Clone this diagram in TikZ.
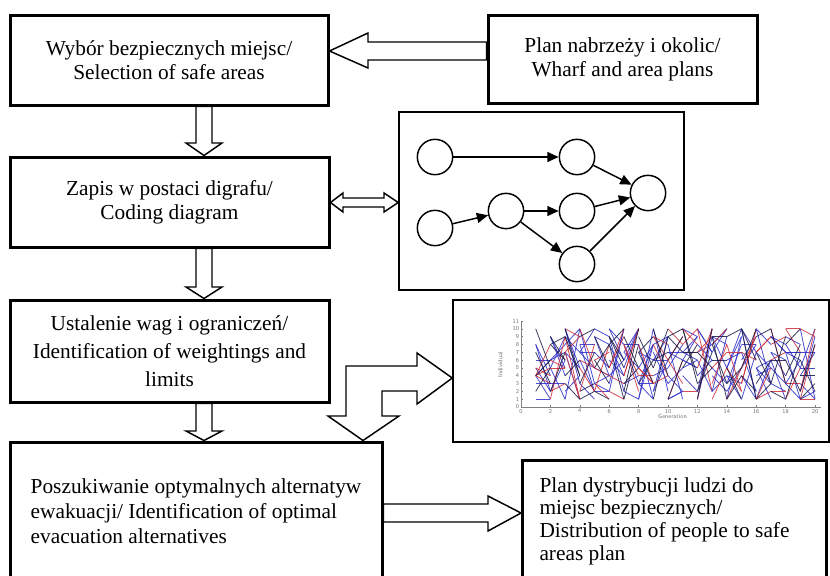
\documentclass[tikz,border=0pt]{standalone}
\usepackage{fontspec}
\setmainfont{Liberation Serif}
\usetikzlibrary{arrows.meta}

\definecolor{plotblue}{RGB}{45,45,200}
\definecolor{plotred}{RGB}{205,45,55}
\definecolor{plotdark}{RGB}{25,25,70}

\tikzset{every picture/.style={line width=0.75pt}}
\tikzset{
  flowbox/.style={draw, line width=2.25pt, inner sep=0pt, font=\fontsize{16}{18}\selectfont},
  framebox/.style={draw, line width=1.1pt, inner sep=0pt},
  blockarrow/.style={draw, line width=1.1pt, line join=miter},
  vertex/.style={draw, circle, line width=1.1pt, minimum size=26.5pt, inner sep=0pt},
  graphedge/.style={line width=1.1pt, -{Triangle[length=8.5pt,width=7.5pt]}},
  plotline/.style={line width=0.6pt, opacity=0.85},
  ticklabel/.style={font=\fontsize{4.5}{5}\sffamily, text=black!55, inner sep=0.5pt},
}

\begin{document}
\begin{tikzpicture}[x=0.75pt,y=0.75pt,yscale=-1,xscale=1]
	\useasboundingbox (0,0) rectangle (830,575);
	\clip (0,0) rectangle (830,575);

	%Shape: Rectangle
	\node [flowbox, minimum width=318*0.75pt, minimum height=90*0.75pt, align=center] (select) at (169,60) {Wybór bezpiecznych miejsc/\\Selection of safe areas};
	%Shape: Rectangle
	\node [flowbox, minimum width=269*0.75pt, minimum height=88*0.75pt, align=center] (plans) at (622.5,59) {Plan nabrzeży i okolic/\\Wharf and area plans};
	%Shape: Rectangle
	\node [flowbox, minimum width=319*0.75pt, minimum height=90*0.75pt, align=center] (coding) at (169.5,202) {Zapis w postaci digrafu/\\Coding diagram};
	%Shape: Rectangle
	\node [flowbox, minimum width=319*0.75pt, minimum height=102*0.75pt, align=center, font=\fontsize{16}{21}\selectfont] (weights) at (169.5,351) {Ustalenie wag i ograniczeń/\\Identification of weightings and\\limits};
	%Shape: Rectangle
	\node [flowbox, minimum width=372*0.75pt, minimum height=138*0.75pt, align=left, font=\fontsize{16}{18.75}\selectfont] (search) at (196,511) {Poszukiwanie optymalnych alternatyw\\ewakuacji/ Identification of optimal\\evacuation alternatives};
	%Shape: Rectangle
	\node [flowbox, text width=270*0.75pt, inner xsep=17*0.75pt, minimum height=122*0.75pt, align=flush left, font=\fontsize{16}{17}\selectfont] (distribution) at (674.5,521) {Plan dystrybucji ludzi do\\miejsc bezpiecznych/\\Distribution of people to safe\\areas plan};

	%Shape: Rectangle (digraph frame)
	\node [framebox, minimum width=285*0.75pt, minimum height=178*0.75pt] (graph) at (541.5,201) {};
	%Shape: Rectangle (chart frame)
	\node [framebox, minimum width=376*0.75pt, minimum height=142*0.75pt] (chart) at (641,371) {};

	%Shape: Circle
	\node [vertex] (v1) at (435,157) {};
	\node [vertex] (v2) at (435,228) {};
	\node [vertex] (v3) at (506,211) {};
	\node [vertex] (v4) at (577,157) {};
	\node [vertex] (v5) at (577,211) {};
	\node [vertex] (v6) at (577,264) {};
	\node [vertex] (v7) at (648,193) {};
	%Straight Lines
	\draw [graphedge] (v1) -- (v4);
	\draw [graphedge] (v2) -- (v3);
	\draw [graphedge] (v3) -- (v5);
	\draw [graphedge] (v3) -- (v6);
	\draw [graphedge] (v4) -- (v7);
	\draw [graphedge] (v5) -- (v7);
	\draw [graphedge] (v6) -- (v7);

	%Left Arrow
	\draw [blockarrow] (plans.west |- 0,42) -- (368,42) -- (368,33) -- (select.east |- 0,51) -- (368,68) -- (368,60) -- (plans.west |- 0,60) -- cycle ;
	%Down Arrow
	\draw [blockarrow] (196,0 |- select.south) -- (196,143) -- (186,143) -- (204,0 |- coding.north) -- (222,143) -- (212,143) -- (212,0 |- select.south) -- cycle ;
	%Down Arrow
	\draw [blockarrow] (196,0 |- coding.south) -- (196,287) -- (186,287) -- (204,0 |- weights.north) -- (222,287) -- (212,287) -- (212,0 |- coding.south) -- cycle ;
	%Down Arrow
	\draw [blockarrow] (196,0 |- weights.south) -- (196,431) -- (186,431) -- (204,0 |- search.north) -- (222,431) -- (212,431) -- (212,0 |- weights.south) -- cycle ;
	%Left Right Arrow
	\draw [blockarrow] (coding.east |- 0,202.5) -- (343,193) -- (343,198) -- (384,198) -- (384,193) -- (graph.west |- 0,202.5) -- (384,212) -- (384,207) -- (343,207) -- (343,212) -- cycle ;
	%Bent Arrow (to chart and down)
	\draw [blockarrow] (346,366) -- (417,366) -- (417,353) -- (chart.west |- 0,378) -- (417,404) -- (417,391) -- (382,391) -- (382,416) -- (399,416) -- (363,0 |- search.north) -- (328,416) -- (346,416) -- cycle ;
	%Right Arrow
	\draw [blockarrow] (search.east |- 0,504) -- (488,504) -- (488,496) -- (distribution.west |- 0,513) -- (488,531) -- (488,522) -- (search.east |- 0,522) -- cycle ;

	% Chart: individuals over generations
	\begin{scope}[shift={(521,407)}, xscale=14.7, yscale=-7.82]
		\pgfmathsetseed{17}
		\foreach \g in {1,...,19} {
			\foreach \k in {1,...,16} {
				\pgfmathrandominteger{\va}{1}{10}
				\pgfmathrandominteger{\vb}{1}{10}
				\ifnum\k<9 \def\col{plotblue}\else\ifnum\k<13 \def\col{plotred}\else\def\col{plotdark}\fi\fi
				\draw [plotline, color=\col] (\g,\va) -- (\g+1,\vb);
			}
		}
		% axes
		\draw [line width=0.4pt, black!50] (0,11) -- (0,0) -- (20.4,0);
		\foreach \v in {0,...,11} {
			\draw [line width=0.3pt, black!50] (0,\v) -- (0.15,\v);
			\node [ticklabel, anchor=east] (ytick\v) at (-0.05,\v) {\v};
		}
		\foreach \g in {0,2,...,20} {
			\draw [line width=0.3pt, black!50] (\g,0) -- (\g,0.2);
			\node [ticklabel, anchor=north] (xtick\g) at (\g,-0.1) {\g};
		}
		\node [ticklabel] (xlabel) at (10.3,-1.2) {Generation};
		\node [ticklabel, rotate=90] (ylabel) at (-1.4,5.4) {Individual};
	\end{scope}

\end{tikzpicture}
\end{document}
